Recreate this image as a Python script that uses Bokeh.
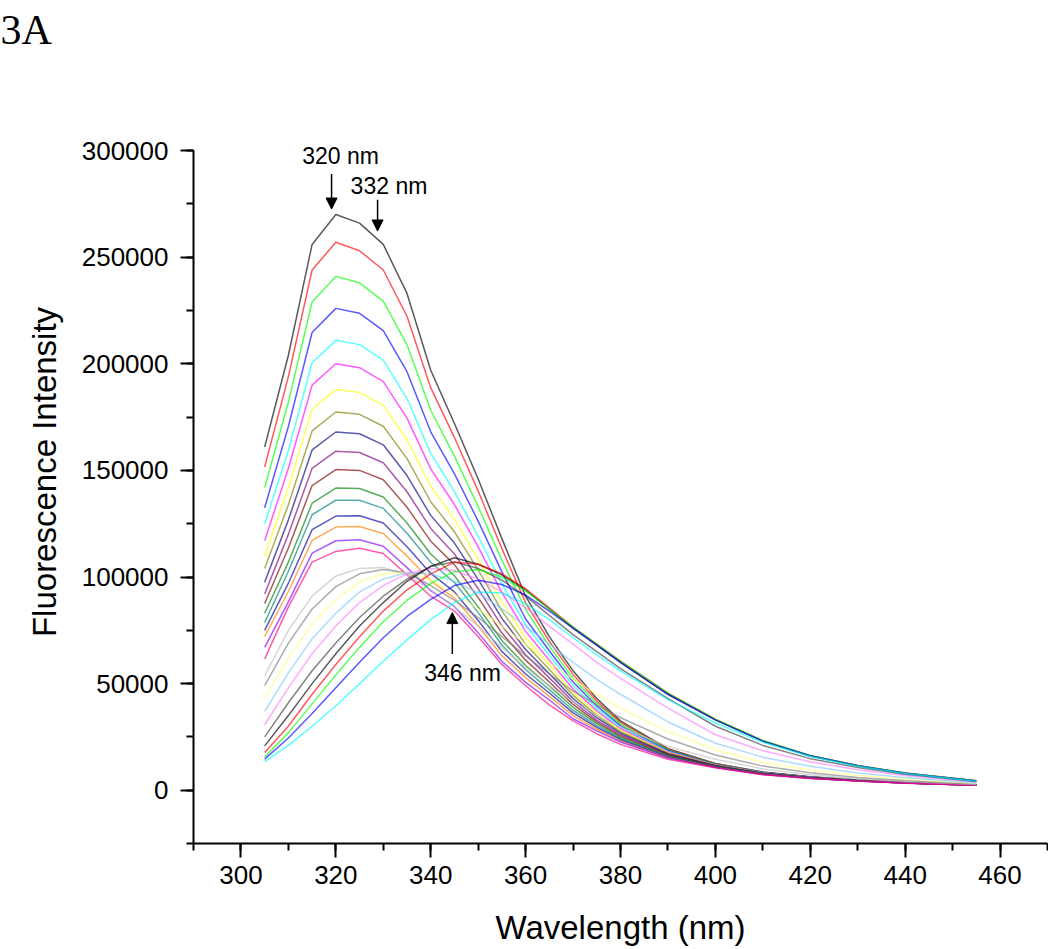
import math
from bokeh.plotting import figure
from bokeh.models import Range1d, SingleIntervalTicker, NumeralTickFormatter, Label, Arrow, NormalHead, Title
from bokeh.embed import file_html
from bokeh.resources import INLINE

# ---------------- data ----------------
wavelength = [305, 310, 315, 320, 325, 330, 335, 340, 345, 350, 355, 360, 365, 370,
              375, 380, 390, 400, 410, 420, 430, 440, 455]

# intensities in thousands of counts
c01 = [161, 204, 256, 270, 266, 256, 233, 197, 172, 146, 118, 91, 72, 56, 43, 32.5, 19.5, 12.5, 8.5, 6.3, 4.8, 3.6, 2.5]
c02 = [151.6, 194, 244, 257, 253, 244, 222.3, 188.8, 165.4, 140.3, 113.3, 87.9, 69.8, 54.3, 41.8, 31.7, 19.2, 12.4, 8.4, 6.25, 4.77, 3.58, 2.49]
c03 = [141.9, 182, 229, 241, 238, 229.4, 208.9, 178.2, 156.7, 133, 107.9, 84.8, 67.6, 52.5, 40.7, 31, 18.9, 12.25, 8.35, 6.2, 4.74, 3.56, 2.48]
c04 = [132.5, 170.6, 214.7, 226, 223.7, 215.6, 196.3, 168.1, 148.4, 126.2, 102.4, 80.3, 65.4, 50.75, 39.5, 30.2, 18.6, 12.1, 8.28, 6.15, 4.71, 3.54, 2.46]
c05 = [125, 159.3, 200.5, 211, 209, 201.7, 183.7, 158, 140, 119.1, 96.7, 77.5, 63.2, 49, 38.3, 29.5, 18.3, 12.0, 8.2, 6.1, 4.68, 3.53, 2.45]
c06 = [117, 151, 190, 200, 198.2, 191.6, 174.5, 150.7, 134, 114.1, 92.7, 74.5, 61, 47.5, 37.2, 28.8, 18, 11.9, 8.13, 6.05, 4.64, 3.51, 2.44]
c07 = [110, 141.9, 178.6, 188, 186.6, 180.5, 164.4, 142.5, 127.2, 108.4, 88.2, 71.5, 58.8, 46, 36.1, 28.1, 17.7, 11.75, 8.05, 6.0, 4.61, 3.49, 2.43]
c08 = [104, 133.9, 168.5, 177.4, 176.3, 170.7, 155.5, 135.3, 121.2, 103.3, 84.1, 68.5, 56.6, 44.5, 35.1, 27.4, 17.4, 11.6, 7.98, 5.95, 4.58, 3.47, 2.41]
c09 = [97.5, 126.8, 159.6, 168, 167.2, 162, 147.6, 128.9, 115.9, 98.9, 80.6, 66, 54.6, 43, 34, 26.75, 17.1, 11.5, 7.9, 5.9, 4.55, 3.45, 2.4]
c10 = [92, 120, 151, 159, 158.4, 153.6, 140, 122.8, 110.8, 94.5, 77.1, 63.5, 52.7, 41.6, 32.9, 26.1, 16.8, 11.4, 7.83, 5.85, 4.52, 3.43, 2.39]
c11 = [87.6, 113.6, 142.9, 150.4, 150, 145.6, 132.7, 116.8, 105.8, 90.3, 73.7, 61, 50.75, 40.25, 32, 25.4, 16.5, 11.25, 7.75, 5.8, 4.49, 3.41, 2.38]
c12 = [83, 107, 134.6, 141.7, 141.5, 137.5, 125.3, 110.8, 100.6, 86, 70.2, 58.5, 48.9, 38.9, 31.2, 24.8, 16.2, 11.1, 7.68, 5.75, 4.46, 3.39, 2.36]
c13 = [78.6, 102.7, 129.2, 136, 136, 132.2, 120.5, 106.9, 97.4, 83.3, 68.1, 56.5, 47.2, 37.5, 30.3, 24.25, 15.9, 11.0, 7.6, 5.7, 4.43, 3.38, 2.35]
c14 = [75, 97.1, 122.2, 128.6, 128.7, 125.3, 114.2, 101.7, 93, 79.6, 65.1, 54.5, 45.6, 36.25, 29.5, 23.7, 15.6, 10.9, 7.53, 5.65, 4.4, 3.36, 2.34]
c15 = [72, 93.2, 117.2, 123.4, 123.7, 120.4, 109.8, 98.2, 90.1, 77.1, 63.1, 52.8, 44, 35, 28.6, 23.1, 15.4, 10.75, 7.45, 5.6, 4.36, 3.34, 2.33]
c16 = [67, 88.3, 111.2, 117, 117.5, 114.4, 104.4, 93.6, 86.2, 73.8, 60.5, 50.6, 42.3, 33.5, 27.8, 22.6, 15.1, 10.6, 7.38, 5.55, 4.33, 3.32, 2.31]
c17 = [61.6, 86, 107, 112, 113.5, 111, 101, 91, 84, 72, 59, 49, 40, 32.5, 26.5, 21.5, 14.5, 10.5, 7.3, 5.5, 4.3, 3.3, 2.3]
c19 = [53.7, 75, 91, 100.5, 104, 104.5, 101, 94, 86, 77, 67, 57.5, 49, 41.5, 35, 29.5, 20.5, 14.5, 10, 7.3, 5.4, 4.1, 2.7]
c20 = [49, 69, 85, 95.5, 101.5, 103.5, 102, 96, 89, 81, 72, 63, 54.5, 46.5, 40, 34, 24, 16.5, 11.3, 8.2, 6.0, 4.5, 2.9]
c21 = [42.8, 62, 78, 89.5, 97.5, 101.5, 102, 98.5, 92, 85, 77, 68.5, 60, 52, 45, 38.5, 27.5, 19, 13, 9.4, 6.9, 5.1, 3.1]
c22 = [37, 55, 71, 83, 93, 99, 102, 101.5, 98, 92.5, 85, 77, 68.5, 60, 52, 45, 32, 22, 15.5, 11.2, 8.1, 5.9, 3.4]
c23 = [30.7, 48, 64, 77, 88, 96, 101.5, 104, 103, 99, 93, 85.5, 77, 68.5, 60, 52.5, 38.5, 26, 18.5, 13.3, 9.6, 6.9, 3.8]
c24 = [25, 41, 56, 69, 81, 91, 99, 105, 107, 104, 98.5, 91, 82, 73, 65, 57, 43, 30, 21, 14.8, 10.6, 7.5, 4.1]
c25 = [20.8, 35, 50, 64, 77, 88, 98, 105, 109, 106, 101, 94, 85, 76, 68, 60, 45, 33, 23, 16, 11.5, 8, 4.4]
c26 = [17.7, 30, 45, 59, 72, 84, 94, 101.5, 107, 106, 101.5, 94.5, 85.5, 76.5, 68.5, 60.5, 45.5, 33.2, 23.2, 16.2, 11.6, 8.1, 4.4]
c27 = [15.6, 27, 40.5, 54, 67, 79, 89, 97, 102.5, 103.5, 100, 93.5, 85, 76.5, 68.5, 60.5, 45.5, 33.3, 23.3, 16.3, 11.6, 8.1, 4.4]
c28 = [14.6, 24.5, 36, 48, 60, 71.5, 81.5, 89.5, 96, 98.5, 96.5, 91.5, 84, 76, 68, 60, 45, 33, 23, 16.2, 11.5, 8, 4.3]
c29 = [13.4, 21, 30, 39.5, 50, 60.5, 70.5, 80, 88, 93, 92.5, 87.5, 80, 71.5, 63.5, 56, 42.5, 31.5, 22.5, 15.8, 11.2, 7.8, 4.2]

series = [c01, c02, c03, c04, c05, c06, c07, c08, c09, c10, c11, c12, c13, c14, c15, c16, c17,
          c19, c20, c21, c22, c23, c24, c25, c26, c27, c28, c29]
colors = ["#000000", "#FF0000", "#00FF00", "#0000FF", "#00FFFF", "#FF00FF", "#FFFF00", "#808000",
          "#000080", "#800080", "#800000", "#008000", "#008080", "#0000A0", "#FF8000", "#8000FF",
          "#FF0080",
          "#C0C0C0", "#808080", "#FFFF80", "#80C8FF", "#FF80FF", "#404040",
          "#000000", "#FF0000", "#00FF00", "#0000FF", "#00FFFF"]

x_ticks_interval = 20
y_ticks_interval = 50000

# ---------------- figure ----------------
p = figure(width=1048, height=949, output_backend="svg", toolbar_location=None,
           x_range=Range1d(290, 470), y_range=Range1d(-25000, 323500),
           min_border_left=193, min_border_right=1, min_border_top=100, min_border_bottom=106)
p.outline_line_color = None
p.grid.visible = False

for vals, col in zip(series, colors):
    p.line(wavelength, [v * 1000 for v in vals], line_color=col, line_width=1.5, line_alpha=0.65)

p.xaxis.ticker = SingleIntervalTicker(interval=x_ticks_interval, num_minor_ticks=2)
p.yaxis.ticker = SingleIntervalTicker(interval=y_ticks_interval, num_minor_ticks=2)
p.yaxis.formatter = NumeralTickFormatter(format="0")
p.yaxis.bounds = (-25000, 300000)

for ax in (p.xaxis, p.yaxis):
    ax.axis_line_width = 2
    ax.axis_line_color = "black"
    ax.major_tick_line_width = 2
    ax.minor_tick_line_width = 2
    ax.major_tick_in = 0
    ax.minor_tick_in = 0
    ax.minor_tick_out = 7
    ax.major_label_text_font = "Liberation Sans"
    ax.major_label_text_font_size = "26px"
    ax.major_label_text_color = "black"
    ax.axis_label_text_font = "Liberation Sans"
    ax.axis_label_text_font_size = "33px"
    ax.axis_label_text_font_style = "normal"
    ax.axis_label_text_color = "black"

p.yaxis.major_tick_out = 13
p.yaxis.major_label_standoff = 12
p.yaxis.axis_label = "Fluorescence Intensity"
p.yaxis.axis_label_standoff = 16
p.xaxis.major_tick_out = 14
p.xaxis.major_label_standoff = 8
p.xaxis.axis_label = "Wavelength (nm)"
p.xaxis.axis_label_standoff = 22

# panel letter (second empty line makes the title block tall, so the text sits at the page top)
p.add_layout(Title(text="3A\n ", align="left", offset=-193, standoff=0, vertical_align="top",
                   text_font="Liberation Serif", text_font_size="42px",
                   text_font_style="normal", text_color="black"), "above")

# annotations
ann_text = ["320 nm", "332 nm", "346 nm"]
ann_text_x = [321.0, 331.2, 346.7]
ann_text_y = [297500, 283600, 55200]
arrow_x = [319.1, 328.8, 344.55]
arrow_y0 = [289000, 276900, 63900]
arrow_y1 = [272600, 262300, 83300]

for t, tx, ty in zip(ann_text, ann_text_x, ann_text_y):
    p.add_layout(Label(x=tx, y=ty, text=t, text_font="Liberation Sans", text_font_size="23px",
                       text_color="black", text_align="center", text_baseline="middle"))
for ax_, y0, y1 in zip(arrow_x, arrow_y0, arrow_y1):
    p.add_layout(Arrow(end=NormalHead(size=11, fill_color="black", line_color="black", line_width=1),
                       x_start=ax_, y_start=y0, x_end=ax_, y_end=y1,
                       line_color="black", line_width=1.5))

open("out.html", "w").write(file_html(p, INLINE))
